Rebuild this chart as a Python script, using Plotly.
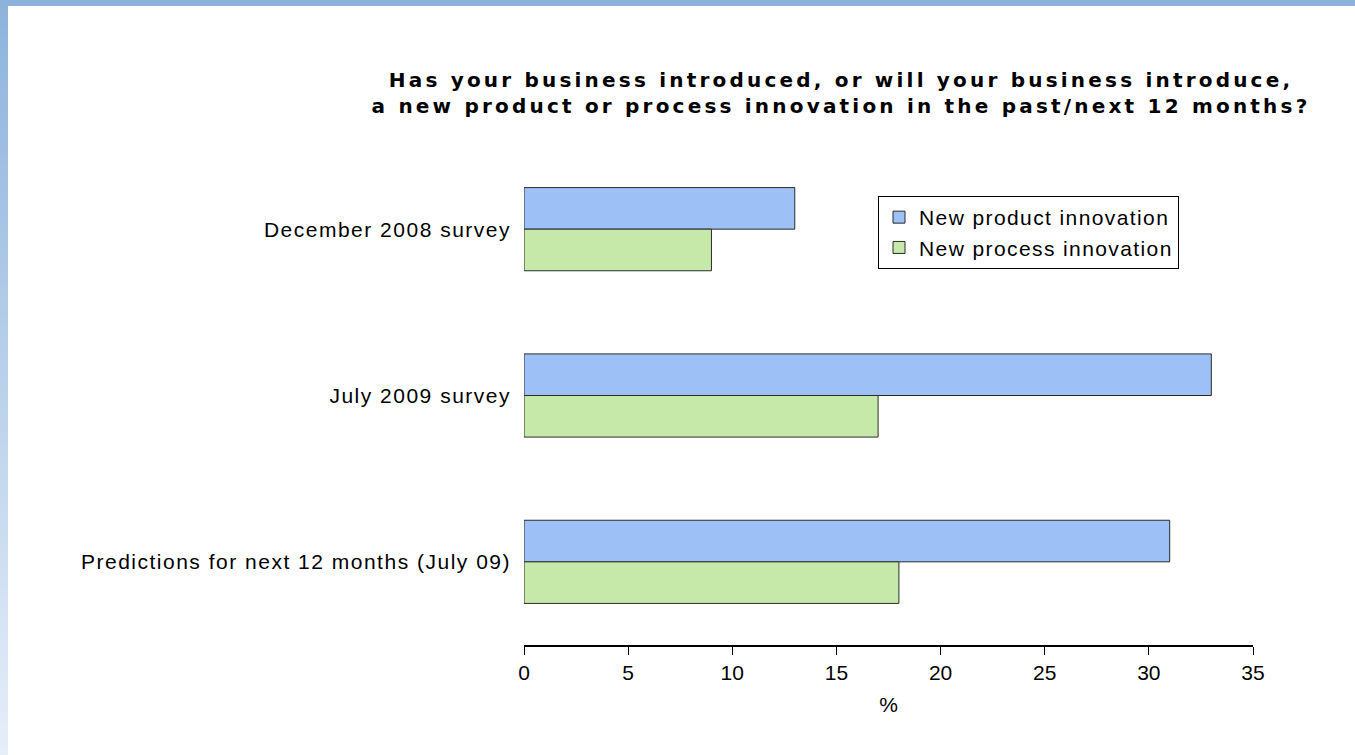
import base64
import plotly.graph_objects as go

# Survey responses (% of businesses)
categories = [
    "December 2008 survey",
    "July 2009 survey",
    "Predictions for next 12 months (July 09)",
]
product_innovation = [13, 33, 31]
process_innovation = [9, 17, 18]
x_ticks = [0, 5, 10, 15, 20, 25, 30, 35]
series_names = ["New product innovation", "New process innovation"]

title_lines = [
    "Has your business introduced, or will your business introduce,",
    "a new product or process innovation in the past/next 12 months?",
]


def spaced(text, px):
    """Wrap text in a span with extra tracking between letters."""
    return f'<span style="letter-spacing:{px}px">{text}</span>'


fig = go.Figure()
fig.add_trace(go.Bar(
    y=categories, x=product_innovation, orientation="h",
    name=spaced(series_names[0], 1.4),
    marker=dict(color="#9dc0f6", line=dict(color="#2b2b2b", width=1)),
))
fig.add_trace(go.Bar(
    y=categories, x=process_innovation, orientation="h",
    name=spaced(series_names[1], 1.4),
    marker=dict(color="#c6e9aa", line=dict(color="#2b2b2b", width=1)),
))

# Page frame: solid band along the top, fading band down the left edge
left_band_svg = (
    '<svg xmlns="http://www.w3.org/2000/svg" width="10" height="755" preserveAspectRatio="none">'
    '<defs><linearGradient id="g" x1="0" y1="0" x2="0" y2="1">'
    '<stop offset="0" stop-color="#8db3dc"/><stop offset="1" stop-color="#e6eef8"/>'
    '</linearGradient></defs><rect width="10" height="755" fill="url(#g)"/></svg>'
)
left_band_src = "data:image/svg+xml;base64," + base64.b64encode(left_band_svg.encode()).decode()

W, H = 1355, 755
ML, MR, MT, MB = 524, 102, 146, 110
pw, ph = W - ML - MR, H - MT - MB


def px_x(p):
    return (p - ML) / pw


def px_y(p):
    return (H - MB - p) / ph


fig.add_layout_image(dict(
    source=left_band_src, xref="paper", yref="paper",
    x=px_x(0), y=px_y(0), sizex=px_x(8) - px_x(0), sizey=px_y(0) - px_y(H),
    xanchor="left", yanchor="top", sizing="stretch", layer="below",
))
fig.add_shape(type="rect", xref="paper", yref="paper",
              x0=px_x(0), x1=px_x(W), y0=px_y(6), y1=px_y(0),
              fillcolor="#8db3dc", line=dict(width=0), layer="below")

fig.update_layout(
    width=W, height=H,
    margin=dict(l=ML, r=MR, t=MT, b=MB),
    paper_bgcolor="white", plot_bgcolor="white",
    barmode="group", bargap=0.5, bargroupgap=0,
    title=dict(
        text="<br>".join(spaced(t, 3.2) for t in title_lines),
        x=841 / W, xref="container", xanchor="center",
        y=1 - 87 / H, yref="container", yanchor="middle",
        font=dict(family="DejaVu Sans", size=20, color="black", weight="bold"),
    ),
    xaxis=dict(
        range=[0, 35], tickmode="array", tickvals=x_ticks,
        ticktext=[str(v) for v in x_ticks],
        showgrid=False, zeroline=False,
        showline=True, linecolor="black", linewidth=2,
        ticks="outside", ticklen=8, tickwidth=1, tickcolor="black",
        tickfont=dict(family="Liberation Sans", size=21, color="black"),
        title=dict(text="%", font=dict(family="Liberation Sans", size=21, color="black"), standoff=14),
    ),
    yaxis=dict(
        categoryorder="array", categoryarray=categories,
        tickmode="array", tickvals=categories,
        ticktext=[spaced(c, 1.5) for c in categories],
        range=[2.5, -0.5], showgrid=False, zeroline=False, showline=False,
        ticks="", ticklabelstandoff=12,
        tickfont=dict(family="Liberation Sans", size=21, color="black"),
    ),
    legend=dict(
        x=px_x(878), y=px_y(196), xanchor="left", yanchor="top",
        bgcolor="white", bordercolor="black", borderwidth=1,
        font=dict(family="Liberation Sans", size=21, color="black"),
        traceorder="normal", tracegroupgap=0,
    ),
    showlegend=True,
)

fig.write_html("out.html")
